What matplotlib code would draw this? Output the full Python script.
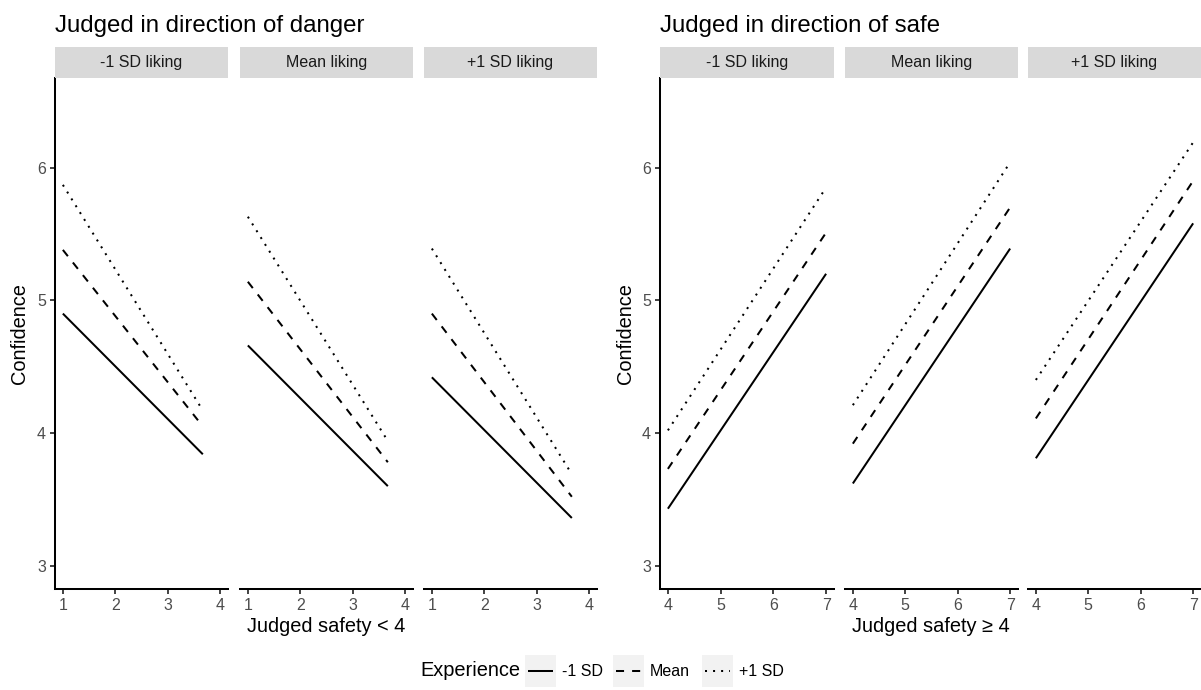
import matplotlib
matplotlib.use("Agg")
from matplotlib import pyplot as plt
from matplotlib.patches import Rectangle

plt.rcParams['font.family'] = ['Liberation Sans', 'DejaVu Sans']

# ---- data ----
liking = ["-1 SD liking", "Mean liking", "+1 SD liking"]
experience = ["-1 SD", "Mean", "+1 SD"]

danger_x = [1.0, 3.67]
danger_low = [[4.90, 3.84], [4.66, 3.60], [4.42, 3.36]]
danger_mean = [[5.38, 4.05], [5.14, 3.78], [4.90, 3.52]]
danger_high = [[5.87, 4.17], [5.63, 3.94], [5.39, 3.69]]

safe_x = [4.0, 7.0]
safe_low = [[3.43, 5.20], [3.62, 5.39], [3.81, 5.58]]
safe_mean = [[3.73, 5.51], [3.92, 5.70], [4.11, 5.90]]
safe_high = [[4.02, 5.85], [4.21, 6.04], [4.40, 6.19]]

danger_ticks = [1, 2, 3, 4]
safe_ticks = [4, 5, 6, 7]
y_ticks = [3, 4, 5, 6]

# ---- layout (pixels) ----
W, H = 1201, 690
top, bottom = 78, 589
strip_top = 47
lw = 1.45
dash_styles = ['-', (0, (4, 4)), (0, (1, 3))]

fig = plt.figure(figsize=(W / 100, H / 100), dpi=100)
fig.patch.set_facecolor('white')


def add_panel(x0, x1):
    return fig.add_axes([x0 / W, 1 - bottom / H, (x1 - x0) / W, (bottom - top) / H])


def draw_group(lefts, xs, low, mean, high, xlim, xticks, title, xlabel):
    series = [low, mean, high]
    for i, (x0, x1) in enumerate(lefts):
        ax = add_panel(x0, x1)
        for s, ls in zip(series, dash_styles):
            ax.plot(xs, s[i], color='black', lw=lw, linestyle=ls,
                    solid_capstyle='butt', dash_capstyle='butt')
        ax.set_xlim(*xlim)
        ax.set_ylim(2.825, 6.675)
        ax.set_xticks(xticks)
        ax.set_yticks(y_ticks)
        for sp in ['top', 'right']:
            ax.spines[sp].set_visible(False)
        ax.spines['bottom'].set_linewidth(lw)
        ax.spines['bottom'].set_color('black')
        ax.tick_params(axis='both', direction='out', length=3.6, width=lw * 0.9,
                       color='#333333', labelcolor='#4D4D4D', labelsize=11.5, pad=2.9)
        if i == 0:
            ax.spines['left'].set_linewidth(lw)
            ax.spines['left'].set_color('black')
        else:
            ax.spines['left'].set_visible(False)
            ax.tick_params(axis='y', left=False, labelleft=False)
        # strip
        fig.patches.append(Rectangle((x0 / W, 1 - top / H), (x1 - x0) / W,
                                     (top - strip_top) / H, transform=fig.transFigure,
                                     facecolor='#D9D9D9', edgecolor='none'))
        fig.text((x0 + x1) / 2 / W, 1 - (top + strip_top) / 2 / H, liking[i],
                 ha='center', va='center', fontsize=11.5, color='#1A1A1A')
    gx0, gx1 = lefts[0][0], lefts[-1][1]
    fig.text(gx0 / W, 1 - 31.7 / H, title, ha='left', va='baseline',
             fontsize=17.3, color='black')
    fig.text((gx0 + gx1) / 2 / W, 1 - 627 / H, xlabel, ha='center', va='center',
             fontsize=14.4, color='black')
    fig.text((gx0 - 35) / W, 1 - (top + bottom) / 2 / H, "Confidence", rotation=90,
             ha='center', va='center', fontsize=14.4, color='black')


draw_group([(55, 228), (240, 413), (424, 597)], danger_x,
           danger_low, danger_mean, danger_high, (0.85, 4.15), danger_ticks,
           "Judged in direction of danger", "Judged safety < 4")
draw_group([(660, 834), (845, 1018), (1028, 1201)], safe_x,
           safe_low, safe_mean, safe_high, (3.85, 7.15), safe_ticks,
           "Judged in direction of safe", "Judged safety \u2265 4")

# ---- legend ----
lax = fig.add_axes([0, 0, 1, 1])
lax.set_xlim(0, W)
lax.set_ylim(H, 0)
lax.axis('off')
ly = 671
lax.text(420, ly, "Experience", ha='left', va='center', fontsize=14.4, color='black')
key_left = [525, 613, 702]
for k, lab, ls in zip(key_left, experience, dash_styles):
    lax.add_patch(Rectangle((k, ly - 15.7), 31.4, 31.4, facecolor='#F2F2F2', edgecolor='none'))
    lax.plot([k + 3.1, k + 28.3], [ly, ly], color='black', lw=lw, linestyle=ls,
             solid_capstyle='butt', dash_capstyle='butt')
    lax.text(k + 37, ly, lab, ha='left', va='center', fontsize=11.5, color='black')

fig.savefig("out.png", dpi=100, facecolor='white')
